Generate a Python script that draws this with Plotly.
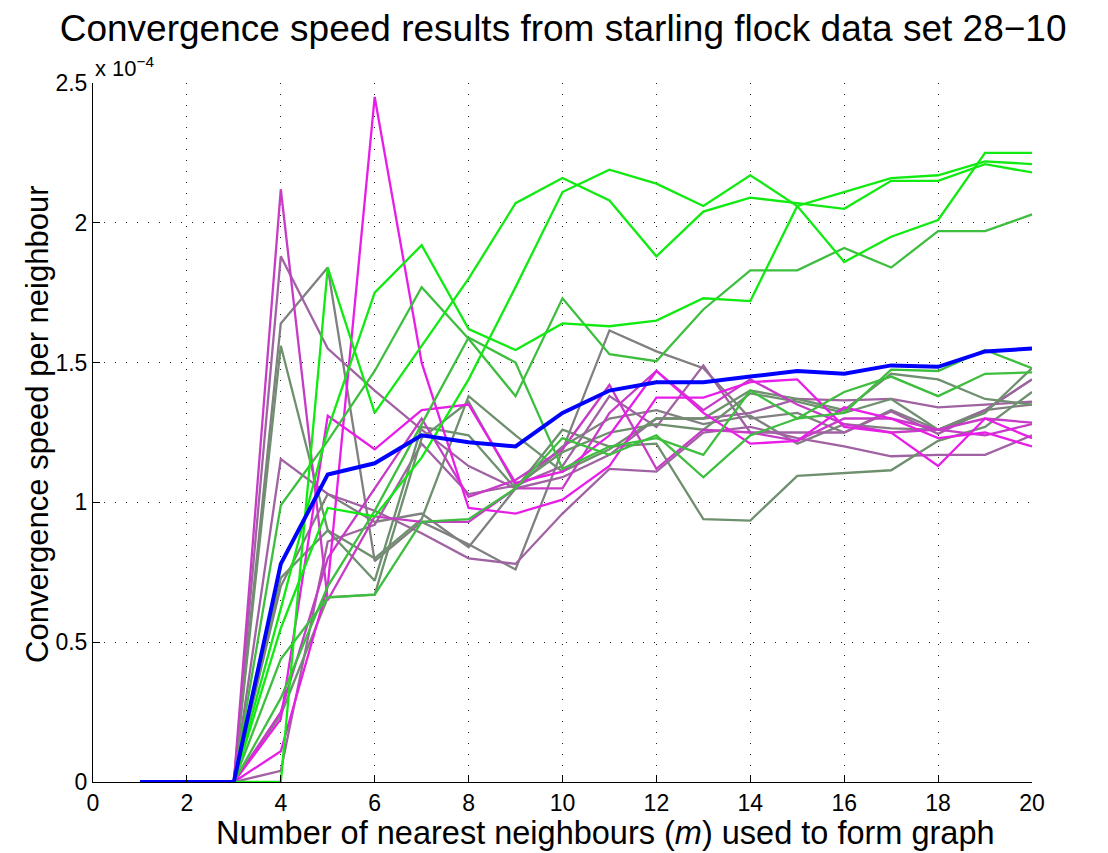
import plotly.graph_objects as go

# neighbours m = 1..20
m_values = list(range(1, 21))
lead_zeros = [0.0, 0.0, 0.0]  # m = 1..3

# Convergence speed per neighbour (units of 1e-4), values for m = 4..20
lime_1 = [0.00, 1.84, 1.32, 1.56, 1.80, 2.07, 2.16, 2.08, 1.88, 2.04, 2.09, 2.07, 2.05, 2.15, 2.15, 2.21, 2.18]
lime_2 = [0.55, 0.98, 0.95, 1.16, 1.44, 1.77, 2.11, 2.19, 2.14, 2.06, 2.17, 2.06, 1.86, 1.95, 2.01, 2.25, 2.25]
lime_3 = [0.62, 1.26, 1.75, 1.92, 1.62, 1.545, 1.64, 1.63, 1.65, 1.73, 1.72, 2.06, 2.11, 2.16, 2.17, 2.22, 2.21]
green_1 = [0.99, 1.22, 1.47, 1.77, 1.585, 1.38, 1.73, 1.53, 1.505, 1.69, 1.83, 1.83, 1.91, 1.84, 1.97, 1.97, 2.03]
green_2 = [0.44, 0.66, 0.67, 0.93, 0.94, 1.05, 1.23, 1.17, 1.24, 1.09, 1.24, 1.30, 1.395, 1.45, 1.38, 1.46, 1.465]
green_3 = [0.30, 0.70, 0.97, 1.28, 1.59, 1.50, 1.12, 1.20, 1.23, 1.17, 1.40, 1.30, 1.32, 1.475, 1.47, 1.545, 1.48]
graygreen_1 = [1.56, 0.90, 0.80, 0.94, 1.38, 1.24, 1.11, 1.19, 1.30, 1.30, 1.40, 1.37, 1.33, 1.46, 1.44, 1.37, 1.35]
graygreen_2 = [0.73, 0.90, 0.72, 1.27, 1.24, 1.05, 1.26, 1.20, 1.21, 0.94, 0.935, 1.095, 1.105, 1.115, 1.22, 1.27, 1.395]
graygreen_3 = [0.24, 0.66, 0.67, 1.23, 1.36, 1.06, 1.18, 1.25, 1.28, 1.26, 1.39, 1.36, 1.32, 1.37, 1.26, 1.32, 1.48]
gray_1 = [1.64, 1.84, 0.79, 0.93, 0.85, 0.76, 1.19, 1.615, 1.54, 1.48, 1.30, 1.32, 1.25, 1.33, 1.26, 1.33, 1.44]
gray_2 = [0.70, 1.03, 0.93, 0.96, 0.84, 1.05, 1.20, 1.30, 1.33, 1.28, 1.31, 1.21, 1.28, 1.265, 1.26, 1.33, 1.35]
mauve_1 = [1.88, 1.55, 1.40, 1.26, 1.13, 1.05, 1.09, 1.17, 1.30, 1.30, 1.32, 1.37, 1.365, 1.37, 1.34, 1.35, 1.36]
mauve_2 = [1.155, 1.03, 0.97, 0.89, 0.80, 0.78, 0.96, 1.12, 1.11, 1.25, 1.27, 1.23, 1.20, 1.165, 1.17, 1.17, 1.24]
mauve_3 = [0.04, 0.86, 0.92, 1.21, 1.03, 1.06, 1.13, 1.38, 1.27, 1.49, 1.25, 1.25, 1.25, 1.325, 1.245, 1.33, 1.44]
magenta_1 = [0.11, 0.70, 2.45, 1.50, 0.98, 0.96, 1.01, 1.13, 1.375, 1.375, 1.43, 1.44, 1.27, 1.25, 1.13, 1.30, 1.23]
magenta_2 = [0.225, 1.31, 1.19, 1.33, 1.35, 1.07, 1.11, 1.24, 1.47, 1.32, 1.21, 1.22, 1.34, 1.30, 1.23, 1.25, 1.20]
purple_1 = [2.12, 0.65, 0.95, 0.93, 0.93, 1.05, 1.05, 1.32, 1.47, 1.33, 1.44, 1.35, 1.28, 1.25, 1.26, 1.24, 1.28]
purple_2 = [0.25, 0.80, 1.05, 1.30, 1.02, 1.08, 1.19, 1.42, 1.12, 1.26, 1.25, 1.22, 1.30, 1.30, 1.26, 1.30, 1.285]
mean_speed = [0.78, 1.10, 1.14, 1.24, 1.215, 1.20, 1.32, 1.40, 1.43, 1.43, 1.45, 1.47, 1.46, 1.49, 1.485, 1.54, 1.55]

x_ticks = list(range(0, 21, 2))
y_ticks = [0, 0.5, 1, 1.5, 2, 2.5]
y_tick_labels = ["0", "0.5", "1", "1.5", "2", "2.5"]

LIME = "#10ea10"
GREEN = "#3ebe3e"
GRAYGREEN = "#6e906e"
GRAY = "#808080"
MAUVE = "#a062a2"
MAGENTA = "#e81ee8"
PURPLE = "#c63cc6"

series = [
    (gray_1, GRAY), (gray_2, GRAY),
    (mauve_1, MAUVE), (mauve_2, MAUVE), (mauve_3, MAUVE),
    (graygreen_1, GRAYGREEN), (graygreen_2, GRAYGREEN), (graygreen_3, GRAYGREEN),
    (purple_1, PURPLE), (purple_2, PURPLE),
    (magenta_1, MAGENTA), (magenta_2, MAGENTA),
    (green_2, GREEN), (green_3, GREEN), (green_1, GREEN),
    (lime_1, LIME), (lime_2, LIME), (lime_3, LIME),
]

fig = go.Figure()
for vals, col in series:
    fig.add_trace(go.Scatter(
        x=m_values[2:], y=[0.0] + vals, mode="lines",
        line=dict(color=col, width=2.3), hoverinfo="skip", showlegend=False))

fig.add_trace(go.Scatter(
    x=m_values, y=lead_zeros + mean_speed, mode="lines",
    line=dict(color="#0000ff", width=4), hoverinfo="skip", showlegend=False))

FONT = "Liberation Sans, Arial, Helvetica, sans-serif"
fig.update_layout(
    width=1108, height=853,
    margin=dict(l=85, r=84, t=75, b=79),
    paper_bgcolor="white", plot_bgcolor="white",
    font=dict(family=FONT, color="black", size=23),
    title=dict(text="Convergence speed results from starling flock data set 28\u221210",
               x=0.501, xanchor="center", y=0.976, yanchor="middle",
               font=dict(size=37, family=FONT, color="black")),
    xaxis=dict(range=[0, 20], tickvals=x_ticks, ticks="inside", ticklen=7,
               tickcolor="black", showline=True, linecolor="black", linewidth=1,
               showgrid=True, gridcolor="#222", gridwidth=1, griddash="1px,10px",
               zeroline=False, tickfont=dict(size=23)),
    yaxis=dict(range=[0, 2.5], tickvals=y_ticks, ticktext=y_tick_labels, ticks="inside",
               ticklen=7, tickcolor="black", showline=True, linecolor="black", linewidth=1,
               showgrid=True, gridcolor="#222", gridwidth=1, griddash="1px,10px",
               zeroline=False, tickfont=dict(size=23)),
    annotations=[
        dict(text="x 10<sup>\u22124</sup>", xref="paper", yref="paper",
             x=0.0, y=1.0, xanchor="left", yanchor="bottom", showarrow=False,
             font=dict(size=22, family=FONT)),
        dict(text="Number of nearest neighbours (<i>m</i>) used to form graph",
             xref="paper", yref="paper", x=0.546, y=-0.073, xanchor="center", yanchor="middle",
             showarrow=False, font=dict(size=32.5, family=FONT)),
        dict(text="Convergence speed per neighbour", textangle=-90,
             xref="paper", yref="paper", x=-0.0585, y=0.511, xanchor="center", yanchor="middle",
             showarrow=False, font=dict(size=31, family=FONT)),
    ],
)

fig.write_html("out.html")
